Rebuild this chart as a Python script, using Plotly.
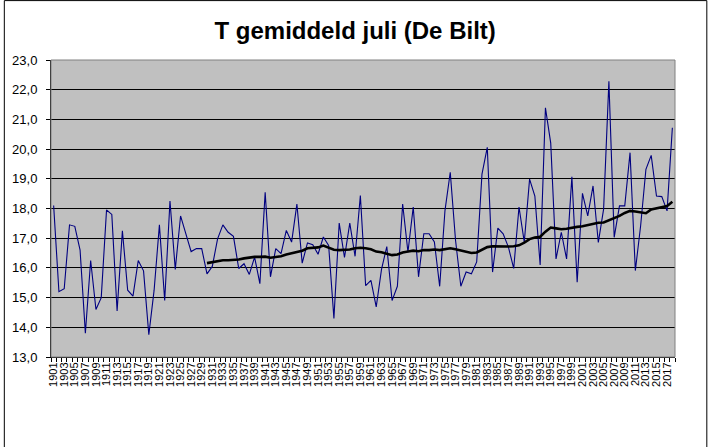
import plotly.graph_objects as go

# Gemiddelde julitemperatuur De Bilt
jaren = list(range(1901, 2019))
temp_juli = [
    18.1, 15.2, 15.3, 17.45, 17.4, 16.6, 13.8, 16.25, 14.6, 15.0,
    17.95, 17.8, 14.55, 17.25, 15.25, 15.05, 16.25, 15.9, 13.75, 15.25,
    17.45, 14.9, 18.25, 15.95, 17.75, 17.15, 16.55, 16.65, 16.65, 15.8,
    16.05, 16.98, 17.45, 17.2, 17.06, 15.98, 16.14, 15.78, 16.36, 15.47,
    18.55, 15.7, 16.65, 16.48, 17.26, 16.87, 18.15, 16.16, 16.84, 16.78,
    16.46, 17.04, 16.76, 14.3, 17.51, 16.35, 17.51, 16.39, 18.44, 15.4,
    15.58, 14.69, 15.95, 16.72, 14.9, 15.38, 18.15, 16.53, 18.05, 15.7,
    17.15, 17.15, 16.87, 15.38, 17.93, 19.22, 16.93, 15.38, 15.86, 15.8,
    16.2, 19.16, 20.06, 15.86, 17.34, 17.15, 16.7, 15.98, 18.05, 16.87,
    18.99, 18.42, 16.1, 21.39, 20.2, 16.3, 17.2, 16.3, 19.07, 15.52,
    18.51, 17.75, 18.76, 16.86, 17.98, 22.28, 17.03, 18.09, 18.09, 19.88,
    15.91, 17.42, 19.32, 19.79, 18.42, 18.4, 17.92, 20.72,
]

# 30-jarig voortschrijdend gemiddelde (zwarte lijn), vanaf 1930
jaren_gem = list(range(1930, 2019))
gem_30 = [
    16.16, 16.2, 16.24, 16.26, 16.26, 16.26, 16.28, 16.32, 16.35, 16.37,
    16.37, 16.38, 16.34, 16.37, 16.39, 16.45, 16.5, 16.53, 16.58, 16.66,
    16.68, 16.69, 16.75, 16.68, 16.61, 16.6, 16.61, 16.62, 16.66, 16.68,
    16.66, 16.63, 16.55, 16.53, 16.48, 16.43, 16.45, 16.52, 16.55, 16.58,
    16.56, 16.6, 16.6, 16.62, 16.6, 16.63, 16.66, 16.63, 16.58, 16.53,
    16.5, 16.52, 16.62, 16.7, 16.73, 16.72, 16.72, 16.72, 16.73, 16.76,
    16.85, 16.97, 17.02, 17.05, 17.22, 17.36, 17.33, 17.3, 17.32, 17.36,
    17.38, 17.4, 17.44, 17.48, 17.52, 17.53, 17.6, 17.68, 17.75, 17.85,
    17.92, 17.9, 17.86, 17.84, 17.97, 18.0, 18.05, 18.08, 18.23,
]

label_jaren = jaren[::2]

fig = go.Figure()

fig.add_trace(go.Scatter(
    x=jaren, y=temp_juli, mode="lines",
    line=dict(color="#000080", width=1.1),
    name="T juli",
))
fig.add_trace(go.Scatter(
    x=jaren_gem, y=gem_30, mode="lines",
    line=dict(color="black", width=2.6),
    name="30-jarig gemiddelde",
))

# rand van het plotgebied (grijs) en van de hele grafiek (zwart)
fig.add_shape(type="rect", xref="paper", yref="paper", x0=0, x1=1, y0=0, y1=1,
              line=dict(color="#808080", width=1), layer="above")
fig.add_shape(type="rect", xref="paper", yref="paper",
              x0=-0.0748, x1=1.0510, y0=-0.33, y1=1.200,
              line=dict(color="black", width=1), layer="above")

fig.update_layout(
    width=716, height=447,
    margin=dict(l=47.5, r=40.5, t=60, b=89.5),
    paper_bgcolor="white",
    plot_bgcolor="#C0C0C0",
    separators=",.",
    showlegend=False,
    font=dict(family="Liberation Sans, Arial", color="black"),
    title=dict(
        text="<b>T gemiddeld juli (De Bilt)</b>",
        font=dict(size=24, family="Liberation Sans, Arial", color="black"),
        x=0.496, xanchor="center", y=0.932, yanchor="middle",
    ),
)

fig.update_xaxes(
    range=[1900.5, 2018.5],
    tickmode="array", tickvals=label_jaren, ticktext=[str(j) for j in label_jaren],
    tickangle=-90, tickfont=dict(size=11),
    ticks="", showgrid=False, zeroline=False,
    showline=True, linecolor="black", linewidth=1,
    minor=dict(ticks="outside", ticklen=4, tickcolor="black",
               tick0=1900.5, dtick=1, showgrid=False),
)

fig.update_yaxes(
    range=[13, 23], dtick=1, tick0=13, tickformat=".1f",
    tickfont=dict(size=13),
    ticks="outside", ticklen=4, tickcolor="black",
    ticklabelstandoff=6,
    showgrid=True, gridcolor="black", gridwidth=1,
    zeroline=False, showline=True, linecolor="black", linewidth=1,
)

fig.write_html("out.html", config={"displayModeBar": False},
               post_script="document.body.style.margin='0';")
